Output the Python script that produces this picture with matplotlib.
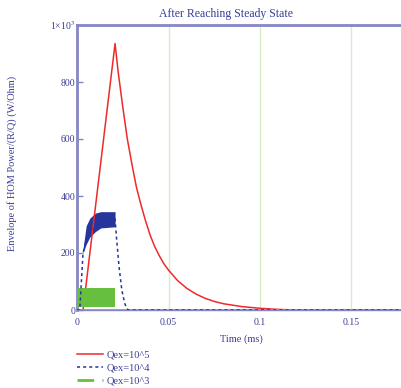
import matplotlib
matplotlib.use("Agg")
import matplotlib.pyplot as plt
from matplotlib.lines import Line2D

plt.rcParams['font.family'] = ['Liberation Serif', 'DejaVu Serif']
plt.rcParams['mathtext.fontset'] = 'stix'

# Qex = 10^5 (red)
red_t = [0, 0.0033, 0.0208, 0.0225, 0.025, 0.0275, 0.03, 0.0325, 0.035, 0.0375,
         0.04, 0.0425, 0.045, 0.0475, 0.05, 0.055, 0.06, 0.065, 0.07, 0.075,
         0.08, 0.09, 0.1, 0.11, 0.12, 0.2]
red_p = [0, 0, 935, 835, 713, 600, 512, 430, 368, 312,
         262, 222, 190, 162, 140, 103, 76, 56, 41, 30,
         22, 12, 6, 2, 0, 0]

# Qex = 10^4 (blue) - dotted path and oscillation envelope
blue_t = [0, 0.0015, 0.0033, 0.005, 0.007, 0.01, 0.0208, 0.0215, 0.023, 0.0245,
          0.026, 0.027, 0.028, 0.2]
blue_p = [0, 0, 200, 245, 270, 290, 320, 260, 150, 70,
          25, 8, 0, 0]
blue_band_t = [0.0033, 0.005, 0.007, 0.01, 0.013, 0.0208]
blue_band_lo = [200, 230, 256, 275, 288, 292]
blue_band_hi = [215, 295, 322, 340, 345, 345]

# Qex = 10^3 (green)
green_t = [0, 0.0208, 0.0209, 0.2]
green_p = [0, 0, 0, 0]
green_band_t = [0, 0.0208]
green_band_lo = [10, 10]
green_band_hi = [78, 78]

yticks = [0, 200, 400, 600, 800, 1000]
ytick_labels = ['0', '200', '400', '600', '800', r'1×10$^{3}$']
xticks = [0, 0.05, 0.1, 0.15]
xtick_labels = ['0', '0.05', '0.1', '0.15']

txt = '#3b3b98'
spine = '#8585c8'
red = '#ee2a2a'
blue = '#26359c'
green = '#66c03e'

fig = plt.figure(figsize=(4.01, 3.88), dpi=100)
ax = fig.add_axes([77 / 401, 78 / 388, 366 / 401, 285 / 388])

for x in [0.05, 0.1, 0.15]:
    ax.axvline(x, color='#d6ecc6', lw=1, zorder=0)

ax.fill_between(blue_band_t, blue_band_lo, blue_band_hi, color=blue, lw=0, zorder=2)
ax.plot(red_t, red_p, color=red, lw=1.1, zorder=3)
ax.fill_between(green_band_t, green_band_lo, green_band_hi, color=green, lw=0, zorder=4)
ax.plot(green_t, green_p, color=green, lw=2, zorder=4)
ax.plot(blue_t, blue_p, color=blue, lw=1.1, ls=(0, (2, 2)), zorder=5)

ax.set_xlim(0, 0.2)
ax.set_ylim(0, 1000)
ax.set_yticks(yticks)
ax.set_yticklabels(ytick_labels)
ax.set_xticks(xticks)
ax.set_xticklabels(xtick_labels)
ax.tick_params(axis='y', direction='in', length=4, width=1, color=spine, pad=1,
               labelsize=7, labelcolor=txt)
ax.tick_params(axis='x', length=0, pad=6, labelsize=7, labelcolor=txt)

ax.spines['right'].set_visible(False)
for s in ['left', 'top']:
    ax.spines[s].set_color(spine)
    ax.spines[s].set_linewidth(2)
ax.spines['bottom'].set_color(spine)
ax.spines['bottom'].set_linewidth(1)

fig.text(226 / 401, 1 - 14 / 388, 'After Reaching Steady State', ha='center', va='center',
         fontsize=8.5, color=txt)
fig.text(12 / 401, 1 - 163 / 388, 'Envelope of HOM Power/(R/Q) (W/Ohm)', rotation=90,
         ha='center', va='center', fontsize=7.5, color=txt)
fig.text(241 / 401, 1 - 339 / 388, 'Time (ms)', ha='center', va='center',
         fontsize=7.5, color=txt)

handles = [
    Line2D([], [], color=red, lw=1.1),
    Line2D([], [], color=blue, lw=1.1, ls=(0, (2, 2))),
    Line2D([], [], color=green, lw=2, ls=(0, (6, 3))),
]
labels = ['Qex=10^5', 'Qex=10^4', 'Qex=10^3']
fig.legend(handles, labels, loc='upper left', bbox_to_anchor=(77 / 401, 1 - 350 / 388),
           frameon=False, fontsize=7.5, labelcolor=txt, handlelength=2.5,
           handletextpad=0.3, labelspacing=0.35, borderaxespad=0, borderpad=0)

fig.savefig('out.png', dpi=100)
